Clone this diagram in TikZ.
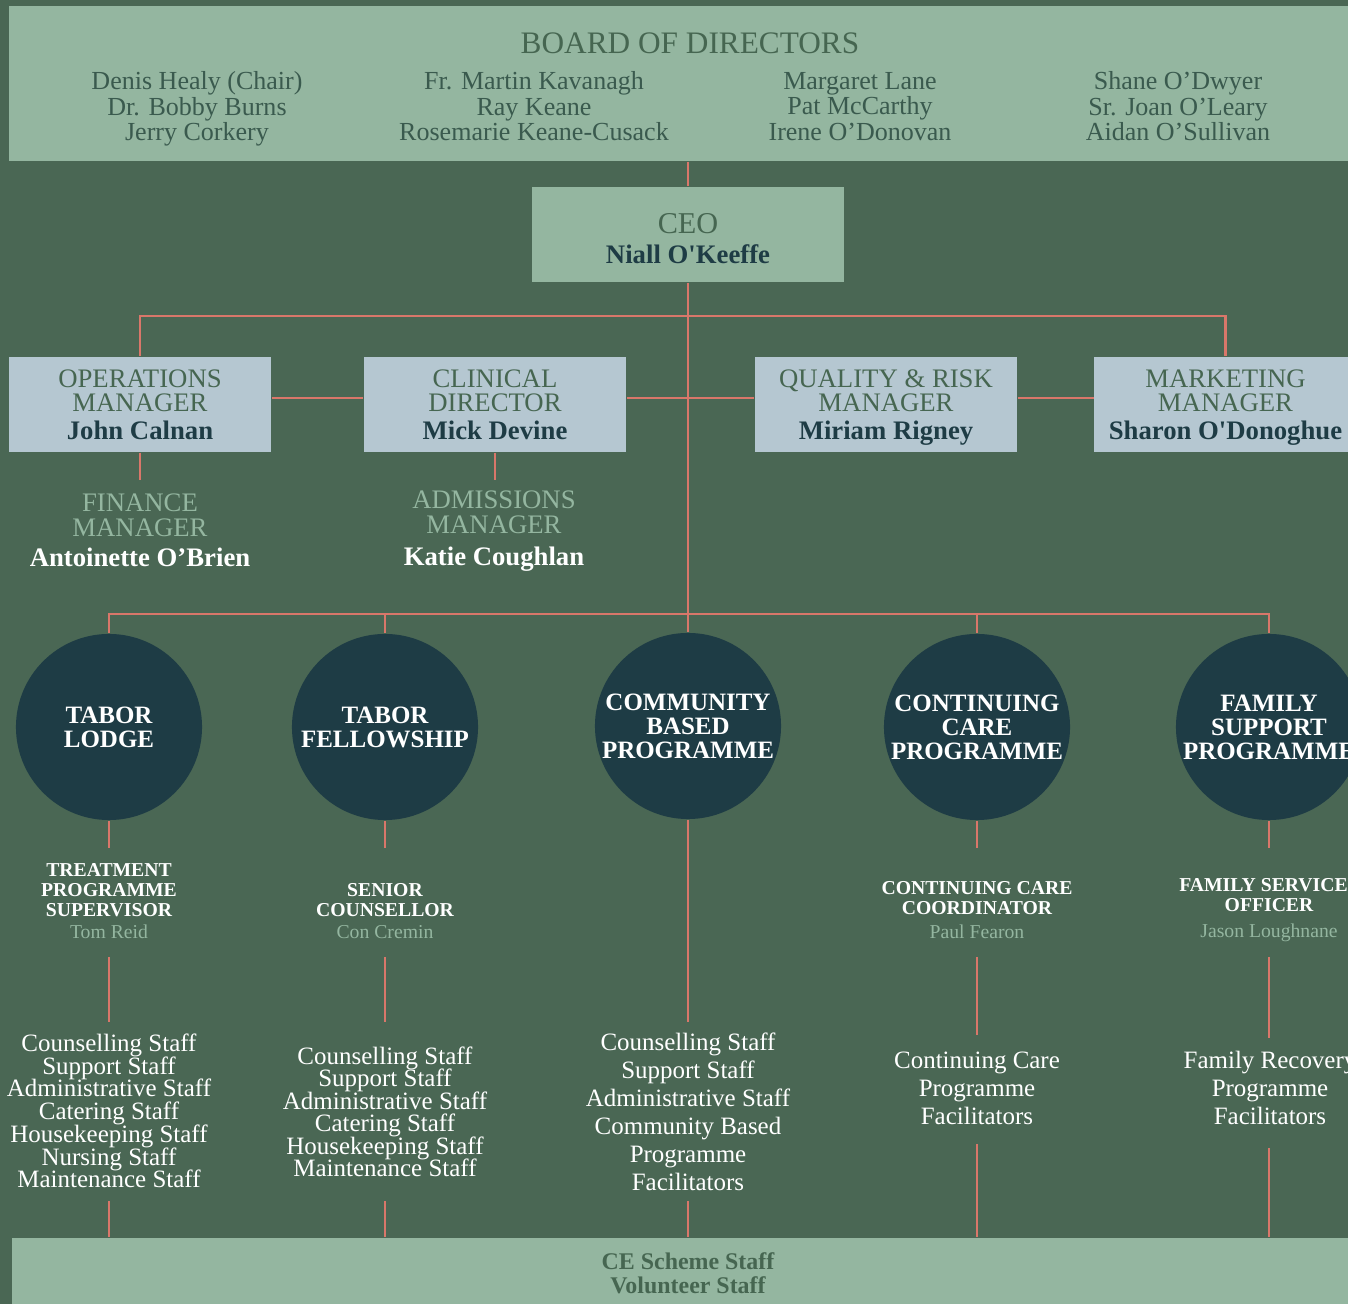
\documentclass[tikz,border=0pt]{standalone}
\usepackage{fontspec}
\setmainfont{Liberation Serif}

\definecolor{bgGreen}{HTML}{4A6754}
\definecolor{paleGreen}{HTML}{94B6A0}
\definecolor{paleBlue}{HTML}{B5C7D1}
\definecolor{deepTeal}{HTML}{1E3C45}
\definecolor{titleGreen}{HTML}{466651}
\definecolor{boardText}{HTML}{3A5A4E}
\definecolor{linkRed}{HTML}{D9776A}

\newcommand{\fsz}[2]{\fontsize{#1}{#2}\selectfont\lineskiplimit=-20pt}
\newcommand{\who}[1]{\\[1pt]{\color{deepTeal}\bfseries #1}}

\begin{document}
\begin{tikzpicture}[x=0.01cm, y=-0.01cm,
    link/.style={draw=linkRed, line width=0.75pt},
    panel/.style={rectangle, fill=paleGreen, inner sep=0pt},
    mgr/.style={rectangle, fill=paleBlue, minimum width=2.62cm, minimum height=0.95cm,
        inner sep=0pt, align=center, text depth=0pt, text=titleGreen, font=\fsz{7.6}{6.9}},
    prog/.style={circle, fill=deepTeal, minimum size=1.86cm, inner sep=0pt},
    progT/.style={inner sep=0pt, align=center, text=white, font=\bfseries\fsz{7.1}{6.8}},
    lead/.style={inner sep=0pt, align=center, text=white, font=\bfseries\fsz{5.6}{5.7}},
    txt/.style={inner sep=0pt, align=center}]

    % page background
    \fill[bgGreen] (0,0) rectangle (1348,1304);
    \useasboundingbox (0,0) rectangle (1348,1304);

    % board of directors panel
    \node[panel, minimum width=13.39cm, minimum height=1.55cm] (board) at (678.5,83.5) {};
    \node[txt, text=titleGreen, font=\fsz{8.9}{9}] (boardT) at (690,43) {BOARD OF DIRECTORS};
    \foreach \x/\names [count=\k] in {197/{Denis Healy (Chair)\\Dr. Bobby Burns\\Jerry Corkery},
        534/{Fr. Martin Kavanagh\\Ray Keane\\Rosemarie Keane-Cusack},
        860/{Margaret Lane\\Pat McCarthy\\Irene O’Donovan},
        1178/{Shane O’Dwyer\\Sr. Joan O’Leary\\Aidan O’Sullivan}} {
        \node[txt, text=boardText, font=\fsz{7.4}{7.25}, text depth=0pt] (dir\k) at (\x,106) {\names};
    }

    % chief executive
    \node[panel, minimum width=3.11cm, minimum height=0.95cm] (ceo) at (688,234.5) {};
    \node[txt, text depth=0pt, text=titleGreen, font=\fsz{8.6}{8.6}] (ceoT) at (688,238.5)
        {CEO\\[0.2pt]{\fsz{7.6}{7}\color{deepTeal}\bfseries Niall O\textquotesingle Keeffe}};

    % managers row
    \node[mgr] (ops) at (140,404.5) {OPERATIONS\\MANAGER\who{John Calnan}};
    \node[mgr] (clin) at (495,404.5) {CLINICAL\\DIRECTOR\who{Mick Devine}};
    \node[mgr] (qual) at (886,404.5) {QUALITY \& RISK\\MANAGER\who{Miriam Rigney}};
    \node[mgr] (mkt) at (1225.5,404.5) {MARKETING\\MANAGER\who{Sharon O\textquotesingle Donoghue}};

    % reports under operations and clinical
    \node[txt, text=paleGreen, font=\fsz{7.6}{7.1}] (fin) at (140,530)
        {FINANCE\\MANAGER\\[1.5pt]{\color{white}\bfseries Antoinette O’Brien}};
    \node[txt, text=paleGreen, font=\fsz{7.6}{7.1}] (adm) at (494,531)
        {ADMISSIONS\\MANAGER\\[2pt]{\color{white}\bfseries Katie Coughlan}};

    % programme circles
    \node[prog] (tl) at (109,727) {};
    \node[prog] (tf) at (385,727) {};
    \node[prog] (cbp) at (688,726) {};
    \node[prog] (ccp) at (977,727) {};
    \node[prog] (fsp) at (1269,727) {};
    \node[progT] (tlT) at (tl) {TABOR\\LODGE};
    \node[progT] (tfT) at (tf) {TABOR\\FELLOWSHIP};
    \node[progT] (cbpT) at (cbp) {COMMUNITY\\BASED\\PROGRAMME};
    \node[progT] (ccpT) at (ccp) {CONTINUING\\CARE\\PROGRAMME};
    \node[progT] (fspT) at (fsp) {FAMILY\\SUPPORT\\PROGRAMME};

    % programme leads
    \node[lead] (tps) at (109,901)
        {TREATMENT\\PROGRAMME\\SUPERVISOR\\[0.5pt]{\mdseries\color{paleGreen}Tom Reid}};
    \node[lead] (sc) at (385,911)
        {SENIOR\\COUNSELLOR\\[0.5pt]{\mdseries\color{paleGreen}Con Cremin}};
    \node[lead] (ccc) at (977,910)
        {CONTINUING CARE\\COORDINATOR\\[1pt]{\mdseries\color{paleGreen}Paul Fearon}};
    \node[lead] (fso) at (1269,910)
        {FAMILY SERVICES\\OFFICER\\[1.5pt]{\mdseries\color{paleGreen}Jason Loughnane}};

    % staff lists
    \node[txt, text=white, font=\fsz{7.1}{6.45}] (tlStaff) at (109,1111)
        {Counselling Staff\\Support Staff\\Administrative Staff\\Catering Staff\\Housekeeping Staff\\Nursing Staff\\Maintenance Staff};
    \node[txt, text=white, font=\fsz{7.1}{6.4}] (tfStaff) at (385,1112)
        {Counselling Staff\\Support Staff\\Administrative Staff\\Catering Staff\\Housekeeping Staff\\Maintenance Staff};
    \node[txt, text=white, font=\fsz{7.1}{8}] (cbpStaff) at (688,1112)
        {Counselling Staff\\Support Staff\\Administrative Staff\\Community Based\\Programme\\Facilitators};
    \node[txt, text=white, font=\fsz{7.1}{8}] (ccpStaff) at (977,1088)
        {Continuing Care\\Programme\\Facilitators};
    \node[txt, text=white, font=\fsz{7.1}{8}] (fspStaff) at (1270,1088)
        {Family Recovery\\Programme\\Facilitators};

    % shared staff panel
    \node[panel, minimum width=13.36cm, minimum height=0.66cm] (base) at (680,1271) {};
    \node[txt, text=titleGreen, font=\bfseries\fsz{6.8}{6.8}] (baseT) at (688,1273)
        {CE Scheme Staff\\Volunteer Staff};

    % bus lines
    \coordinate (bus1) at (688,316);
    \coordinate (hl) at (688,398);
    \coordinate (bus2) at (688,614);
    \coordinate (opsS) at (140,480);
    \coordinate (clinS) at (495,480);

    \draw[link] (board.south -| ceo) -- (ceo.north);
    \draw[link] (ceo.south) -- (cbp.north);
    \draw[link] (ops.north) |- (bus1) -| (mkt.north);
    \draw[link] (ops.east |- hl) -- (clin.west |- hl);
    \draw[link] (clin.east |- hl) -- (qual.west |- hl);
    \draw[link] (qual.east |- hl) -- (mkt.west |- hl);
    \draw[link] (ops.south) -- (opsS);
    \draw[link] (clin.south) -- (clinS);
    \draw[link] (tl.north) |- (bus2) -| (fsp.north);
    \draw[link] (tf.north) |- (bus2);
    \draw[link] (ccp.north) |- (bus2);

    % stubs under the circles
    \foreach \p/\x in {tl/109, tf/385, ccp/977, fsp/1269} {
        \coordinate (\p S) at (\x,848);
        \draw[link] (\p.south) -- (\p S);
    }

    % lines above the staff lists
    \foreach \p/\x/\top/\bot in {tl/109/957/1022, tf/385/957/1022, ccp/977/957/1035, fsp/1269/957/1038} {
        \coordinate (\p U) at (\x,\top);
        \coordinate (\p L) at (\x,\bot);
        \draw[link] (\p U) -- (\p L);
    }
    \coordinate (cbpL) at (688,1022);
    \draw[link] (cbp.south) -- (cbpL);

    % lines down to the shared panel
    \foreach \p/\x/\y in {tl/109/1201, tf/385/1201, cbp/688/1201, ccp/977/1144, fsp/1269/1148} {
        \coordinate (\p B) at (\x,\y);
        \draw[link] (\p B) -- (\p B |- base.north);
    }
\end{tikzpicture}
\end{document}
